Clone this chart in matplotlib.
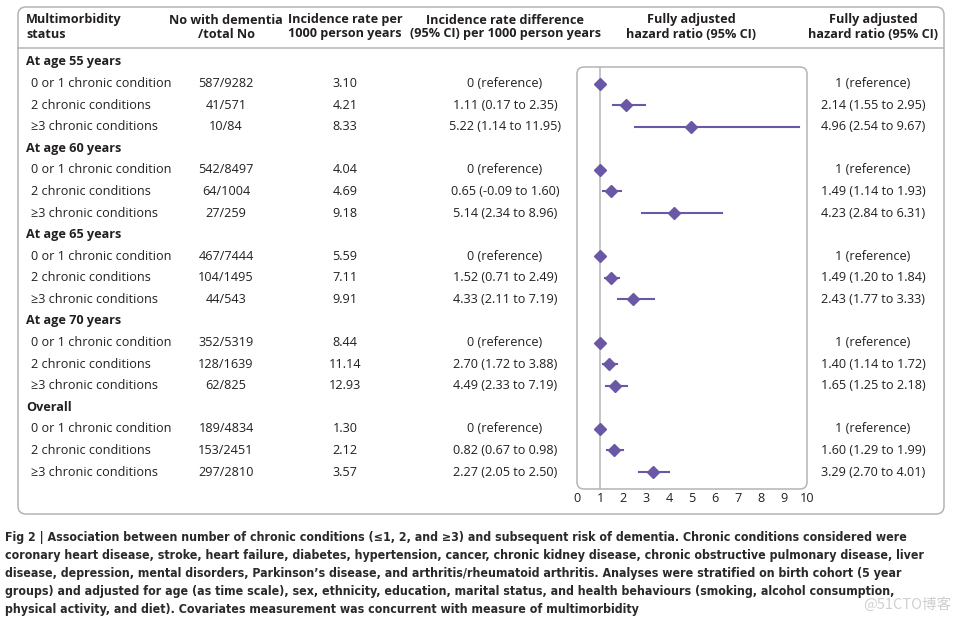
import matplotlib.pyplot as plt
from matplotlib.patches import FancyBboxPatch

# table data
groups = ["At age 55 years", "At age 60 years", "At age 65 years", "At age 70 years", "Overall"]
statuses = ["0 or 1 chronic condition", "2 chronic conditions", "\u22653 chronic conditions"]
n_dementia = [["587/9282", "41/571", "10/84"],
              ["542/8497", "64/1004", "27/259"],
              ["467/7444", "104/1495", "44/543"],
              ["352/5319", "128/1639", "62/825"],
              ["189/4834", "153/2451", "297/2810"]]
inc_rate = [["3.10", "4.21", "8.33"],
            ["4.04", "4.69", "9.18"],
            ["5.59", "7.11", "9.91"],
            ["8.44", "11.14", "12.93"],
            ["1.30", "2.12", "3.57"]]
rate_diff = [["0 (reference)", "1.11 (0.17 to 2.35)", "5.22 (1.14 to 11.95)"],
             ["0 (reference)", "0.65 (-0.09 to 1.60)", "5.14 (2.34 to 8.96)"],
             ["0 (reference)", "1.52 (0.71 to 2.49)", "4.33 (2.11 to 7.19)"],
             ["0 (reference)", "2.70 (1.72 to 3.88)", "4.49 (2.33 to 7.19)"],
             ["0 (reference)", "0.82 (0.67 to 0.98)", "2.27 (2.05 to 2.50)"]]
hr = [[1, 2.14, 4.96], [1, 1.49, 4.23], [1, 1.49, 2.43], [1, 1.40, 1.65], [1, 1.60, 3.29]]
hr_lo = [[1, 1.55, 2.54], [1, 1.14, 2.84], [1, 1.20, 1.77], [1, 1.14, 1.25], [1, 1.29, 2.70]]
hr_hi = [[1, 2.95, 9.67], [1, 1.93, 6.31], [1, 1.84, 3.33], [1, 1.72, 2.18], [1, 1.99, 4.01]]
xticks = [0, 1, 2, 3, 4, 5, 6, 7, 8, 9, 10]

caption = [
    "Fig 2 | Association between number of chronic conditions (\u22641, 2, and \u22653) and subsequent risk of dementia. Chronic conditions considered were",
    "coronary heart disease, stroke, heart failure, diabetes, hypertension, cancer, chronic kidney disease, chronic obstructive pulmonary disease, liver",
    "disease, depression, mental disorders, Parkinson\u2019s disease, and arthritis/rheumatoid arthritis. Analyses were stratified on birth cohort (5 year",
    "groups) and adjusted for age (as time scale), sex, ethnicity, education, marital status, and health behaviours (smoking, alcohol consumption,",
    "physical activity, and diet). Covariates measurement was concurrent with measure of multimorbidity",
]

txt = '#231f20'
purple = '#6a58a6'
grey = '#b4b4b4'
font = ['Open Sans', 'DejaVu Sans']
fs = 9.1

W, H = 961, 623
fig = plt.figure(figsize=(W / 100, H / 100), dpi=100)
ax = fig.add_axes([0, 0, 1, 1])
ax.set_xlim(0, W)
ax.set_ylim(H, 0)
ax.axis('off')

# outer box and header rule
ax.add_patch(FancyBboxPatch((18, 7), 926, 507, boxstyle="round,pad=0,rounding_size=8",
                            fc='none', ec=grey, lw=1.1))
ax.plot([18, 944], [48, 48], color=grey, lw=1.1)

# headers
hdr = dict(fontsize=fs, fontweight='bold', color=txt, family=font, va='center')
ax.text(26, 20, "Multimorbidity", ha='left', **hdr)
ax.text(26, 34, "status", ha='left', **hdr)
ax.text(226, 20, "No with dementia", ha='center', **hdr)
ax.text(226, 34, "/total No", ha='center', **hdr)
ax.text(345, 20, "Incidence rate per", ha='center', **hdr)
ax.text(345, 34, "1000 person years", ha='center', **hdr)
ax.text(505, 20, "Incidence rate difference", ha='center', **hdr)
ax.text(505, 34, "(95% CI) per 1000 person years", ha='center', **hdr)
ax.text(691, 20, "Fully adjusted", ha='center', **hdr)
ax.text(691, 34, "hazard ratio (95% CI)", ha='center', **hdr)
ax.text(873, 20, "Fully adjusted", ha='center', **hdr)
ax.text(873, 34, "hazard ratio (95% CI)", ha='center', **hdr)

# rows
y0, dy = 62, 21.58
body = dict(fontsize=fs, color=txt, family=font, va='center')
row_y = []
k = 0
for g, grp in enumerate(groups):
    ax.text(26, y0 + k * dy, grp, ha='left', **hdr)
    k += 1
    for s, st in enumerate(statuses):
        y = y0 + k * dy
        row_y.append(y)
        ax.text(31, y, st, ha='left', **body)
        ax.text(226, y, n_dementia[g][s], ha='center', **body)
        ax.text(345, y, inc_rate[g][s], ha='center', **body)
        ax.text(505, y, rate_diff[g][s], ha='center', **body)
        if s == 0:
            lab = "1 (reference)"
        else:
            lab = "%.2f (%.2f to %.2f)" % (hr[g][s], hr_lo[g][s], hr_hi[g][s])
        ax.text(873, y, lab, ha='center', **body)
        k += 1

# forest plot
fx0, fx1, fy0, fy1 = 577, 807, 67, 489
ax.add_patch(FancyBboxPatch((fx0, fy0), fx1 - fx0, fy1 - fy0,
                            boxstyle="round,pad=0,rounding_size=7",
                            fc='none', ec=grey, lw=1.1))
fax = fig.add_axes([fx0 / W, 1 - fy1 / H, (fx1 - fx0) / W, (fy1 - fy0) / H])
fax.patch.set_alpha(0)
fax.set_xlim(0, 10)
fax.set_ylim(fy1, fy0)
for sp in fax.spines.values():
    sp.set_visible(False)
fax.set_yticks([])
fax.set_xticks(xticks)
fax.set_xticklabels([str(t) for t in xticks], family=font, fontsize=fs, color=txt)
fax.tick_params(axis='x', length=0, pad=2)
fax.axvline(1, color=grey, lw=1.1, zorder=1)

i = 0
for g in range(len(groups)):
    for s in range(len(statuses)):
        y = row_y[i]
        if hr_hi[g][s] > hr_lo[g][s]:
            fax.plot([hr_lo[g][s], hr_hi[g][s]], [y, y], color=purple, lw=1.5, zorder=2)
        fax.plot(hr[g][s], y, marker='D', ms=6, color=purple, mec=purple, zorder=3)
        i += 1

# caption
for j, line in enumerate(caption):
    ax.text(5, 537 + j * 18.1, line, ha='left', va='center', fontsize=8.95,
            fontweight='bold', fontstretch='condensed', color='#2b2a2a', family=['DejaVu Sans'])

ax.text(951, 605, "@51CTO博客", ha='right', va='center', fontsize=10.5, color='#d0d0d0',
        family=['Noto Sans CJK SC', 'DejaVu Sans'])

fig.savefig('out.png', dpi=100)
